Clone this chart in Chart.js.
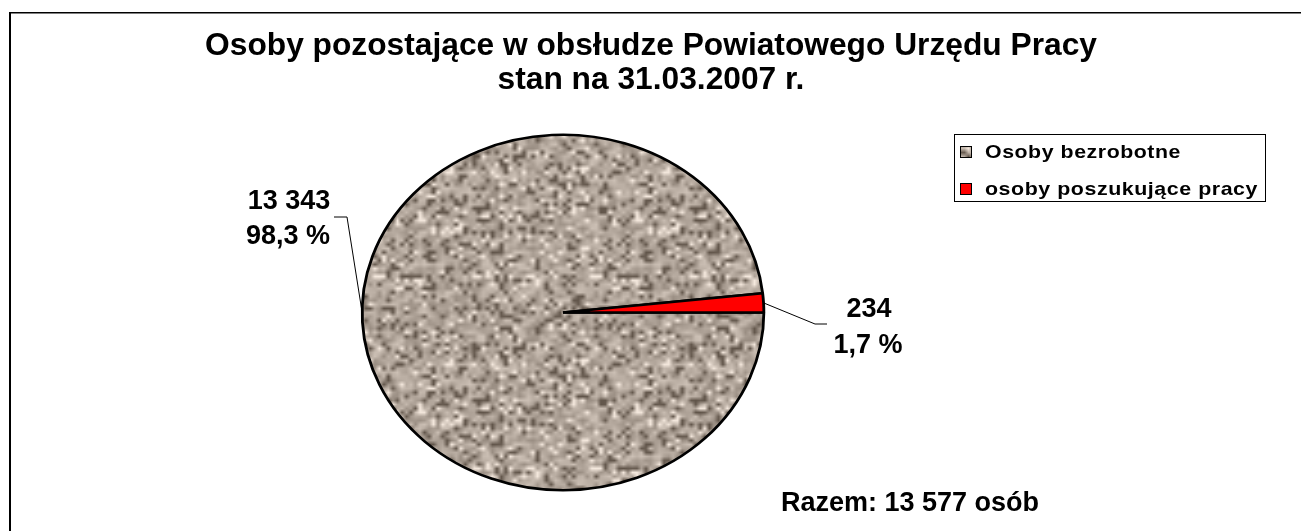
<!DOCTYPE html>
<html>
<head>
<meta charset="utf-8">
<script src="https://cdn.jsdelivr.net/npm/chart.js@4.4.1/dist/chart.umd.min.js"></script>
<style>
    html, body { margin: 0; padding: 0; background: #fff; }
    #wrap { position: relative; width: 1301px; height: 531px; }
</style>
</head>
<body>
<div id="wrap"><canvas id="chart" width="1301" height="531"></canvas></div>
<script>
    "use strict";

    // --- data ---
    const titleLines = ['Osoby pozostające w obsłudze Powiatowego Urzędu Pracy', 'stan na 31.03.2007 r.'];
    const categories = ['Osoby bezrobotne', 'osoby poszukujące pracy'];
    const values = [13343, 234];
    const countLabels = ['13 343', '234'];
    const percentLabels = ['98,3 %', '1,7 %'];
    const totalLabel = 'Razem: 13 577 osób';

    const FONT = '"Liberation Sans", Arial, sans-serif';
    const SX = 1.13; // the pie in the picture is an ellipse, wider than tall

    // granite-like texture for the big slice (tileable)
    function makeTexture() {
        let seed = 4242;
        function rnd() {
            seed = (seed * 1103515245 + 12345) & 0x7fffffff;
            return seed / 0x7fffffff;
        }
        const N = 48, K = 4, S = N * K;
        let v = [];
        for (let i = 0; i < N * N; i++) {
            let r = rnd();
            let d = (r - 0.5) * 70;
            if (r < 0.15) d -= 45;
            if (r > 0.92) d += 35;
            v.push(d);
        }
        let c = document.createElement('canvas');
        c.width = S;
        c.height = S;
        let cctx = c.getContext('2d');
        let img = cctx.createImageData(S, S);
        for (let y = 0; y < S; y++) {
            for (let x = 0; x < S; x++) {
                let fx = x / K, fy = y / K;
                let x0 = Math.floor(fx), y0 = Math.floor(fy);
                let tx = fx - x0, ty = fy - y0;
                let x1 = (x0 + 1) % N, y1 = (y0 + 1) % N;
                let d = v[y0 * N + x0] * (1 - tx) * (1 - ty) + v[y0 * N + x1] * tx * (1 - ty)
                    + v[y1 * N + x0] * (1 - tx) * ty + v[y1 * N + x1] * tx * ty;
                let p = (y * S + x) * 4;
                img.data[p] = Math.max(0, Math.min(255, 176 + d));
                img.data[p + 1] = Math.max(0, Math.min(255, 164 + d));
                img.data[p + 2] = Math.max(0, Math.min(255, 153 + d));
                img.data[p + 3] = 255;
            }
        }
        cctx.putImageData(img, 0, 0);
        return cctx.createPattern(c, 'repeat');
    }

    let ctx0 = document.getElementById('chart').getContext('2d');
    let granite = makeTexture();
    const sliceColors = [granite, '#ff0000'];

    let ellipsePlugin = {
        id: 'ellipse',
        beforeDatasetsDraw(chart) {
            let arc = chart.getDatasetMeta(0).data[0];
            let ctx = chart.ctx;
            ctx.save();
            ctx.translate(arc.x, arc.y);
            ctx.scale(SX, 1);
            ctx.translate(-arc.x, -arc.y);
        },
        afterDatasetsDraw(chart) {
            chart.ctx.restore();
        }
    };

    function fitSize(ctx, text, width) {
        ctx.font = 'bold 100px ' + FONT;
        return 100 * width / ctx.measureText(text).width;
    }

    let textPlugin = {
        id: 'texts',
        afterDraw(chart) {
            let ctx = chart.ctx;
            let meta = chart.getDatasetMeta(0);
            let big = meta.data[0];
            let small = meta.data[1];
            ctx.save();

            // frame (left and top only)
            ctx.fillStyle = '#000';
            ctx.fillRect(9, 12, 2, 519);
            ctx.fillRect(9, 12, 1292, 1.5);

            // title
            let ts = fitSize(ctx, titleLines[0], 892);
            ctx.font = 'bold ' + ts + 'px ' + FONT;
            ctx.textAlign = 'center';
            ctx.textBaseline = 'alphabetic';
            ctx.fillText(titleLines[0], 651, 55);
            ctx.fillText(titleLines[1], 651, 89);

            // leader lines
            ctx.strokeStyle = '#000';
            ctx.lineWidth = 1;
            let a = (small.startAngle + small.endAngle) / 2;
            let r = small.outerRadius;
            ctx.beginPath();
            ctx.moveTo(small.x + Math.cos(a) * r * SX, small.y + Math.sin(a) * r);
            ctx.lineTo(815, 324);
            ctx.lineTo(827, 324);
            ctx.stroke();
            ctx.beginPath();
            ctx.moveTo(big.x - big.outerRadius * SX, big.y);
            ctx.lineTo(347, 217);
            ctx.lineTo(334, 217);
            ctx.stroke();

            // data labels
            ctx.font = 'bold 27px ' + FONT;
            ctx.fillText(countLabels[0], 289, 209);
            ctx.fillText(percentLabels[0], 288, 244);
            ctx.fillText(countLabels[1], 869, 317);
            ctx.fillText(percentLabels[1], 868, 353);

            // total
            ctx.fillText(totalLabel, 910, 511);

            // legend box
            ctx.fillStyle = '#fff';
            ctx.fillRect(954, 134, 311, 67);
            ctx.strokeStyle = '#000';
            ctx.lineWidth = 1;
            ctx.strokeRect(954.5, 134.5, 311, 67);
            let ly = [158, 195];
            let lw = [196, 273];
            ctx.textAlign = 'left';
            for (let i = 0; i < categories.length; i++) {
                ctx.fillStyle = sliceColors[i];
                ctx.fillRect(961, ly[i] - 11, 10, 10);
                ctx.strokeRect(960.5, ly[i] - 11.5, 11, 11);
                ctx.fillStyle = '#000';
                ctx.font = 'bold 19px ' + FONT;
                ctx.letterSpacing = '0.5px';
                let w = ctx.measureText(categories[i]).width;
                ctx.save();
                ctx.translate(985, ly[i]);
                ctx.scale(lw[i] / w, 1);
                ctx.fillText(categories[i], 0, 0);
                ctx.restore();
            }
            ctx.letterSpacing = '0px';
            ctx.restore();
        }
    };

    new Chart(ctx0, {
        type: 'pie',
        data: {
            labels: categories,
            datasets: [{
                data: values,
                backgroundColor: sliceColors,
                borderColor: '#000',
                borderWidth: 2.5
            }]
        },
        options: {
            responsive: false,
            animation: false,
            rotation: 90,
            layout: {
                padding: { top: 133, bottom: 39, left: 384, right: 559 }
            },
            plugins: {
                legend: { display: false },
                tooltip: { enabled: false },
                title: { display: false }
            }
        },
        plugins: [ellipsePlugin, textPlugin]
    });
</script>
</body>
</html>
